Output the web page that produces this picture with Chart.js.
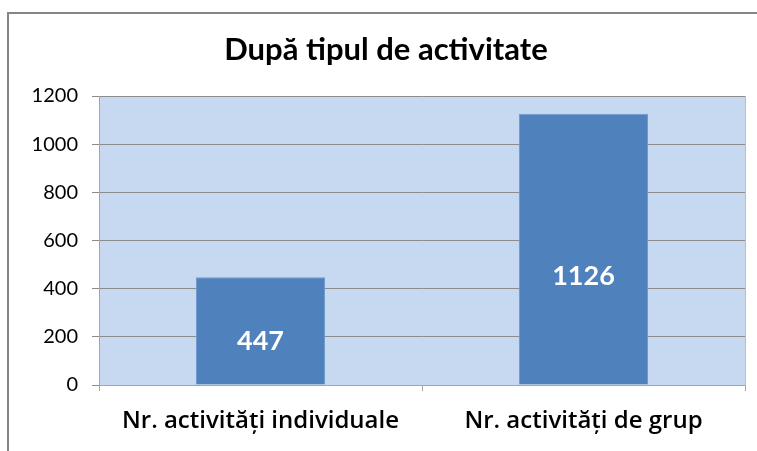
<!DOCTYPE html>
<html>
<head>
<meta charset="utf-8">
<script src="https://cdn.jsdelivr.net/npm/chart.js@4.4.1/dist/chart.umd.min.js"></script>
<style>
  html, body { margin: 0; padding: 0; background: #ffffff; }
  #wrap { position: relative; width: 757px; height: 451px; overflow: hidden; }
  #frame { position: absolute; left: 7px; top: 12px; width: 800px; height: 500px;
           border-left: 2px solid #868686; border-top: 2px solid #868686; box-sizing: border-box; }
  canvas { position: absolute; left: 0; top: 0; }
</style>
</head>
<body>
<div id="wrap">
  <div id="frame"></div>
  <canvas id="c" width="757" height="451"></canvas>
</div>
<script>
const TITLE = "După tipul de activitate";
const categories = ["Nr. activități individuale", "Nr. activități de grup"];
const values = [447, 1126];
const yTicks = [0, 200, 400, 600, 800, 1000, 1200];

const plotBg = {
  id: 'plotBg',
  beforeDraw(chart) {
    const a = chart.chartArea, ctx = chart.ctx;
    ctx.save();
    ctx.fillStyle = '#C6D9F1';
    ctx.fillRect(a.left, a.top, a.right - a.left, a.bottom - a.top);
    ctx.strokeStyle = '#B4BFCC';
    ctx.lineWidth = 1;
    ctx.beginPath();
    ctx.moveTo(a.right + 0.5, a.top);
    ctx.lineTo(a.right + 0.5, a.bottom + 6);
    ctx.stroke();
    ctx.restore();
  }
};

const titlePlugin = {
  id: 'titleText',
  afterDraw(chart) {
    const ctx = chart.ctx;
    ctx.save();
    ctx.font = 'bold 31px Lato';
    ctx.fillStyle = '#000000';
    ctx.textAlign = 'center';
    ctx.textBaseline = 'middle';
    ctx.fillText(TITLE, 386, 50);
    ctx.restore();
  }
};

const barLabels = {
  id: 'barLabels',
  afterDatasetsDraw(chart) {
    const ctx = chart.ctx;
    const meta = chart.getDatasetMeta(0);
    ctx.save();
    ctx.font = 'bold 27px Lato';
    ctx.fillStyle = '#ffffff';
    ctx.textAlign = 'center';
    ctx.textBaseline = 'middle';
    meta.data.forEach((bar, i) => {
      const y = bar.base - (bar.base - bar.y) * 0.40;
      ctx.fillText(String(values[i]), bar.x, y);
    });
    ctx.restore();
  }
};

new Chart(document.getElementById('c'), {
  type: 'bar',
  data: {
    labels: categories,
    datasets: [{
      data: values,
      backgroundColor: '#4F81BD',
      borderColor: '#6E98CC',
      borderWidth: 1,
      barPercentage: 0.4,
      categoryPercentage: 1.0
    }]
  },
  options: {
    responsive: false,
    animation: false,
    devicePixelRatio: 1,
    layout: { padding: { left: 0, right: 12, top: 96, bottom: 0 } },
    plugins: {
      legend: { display: false },
      title: { display: false },
      tooltip: { enabled: false }
    },
    scales: {
      x: {
        offset: true,
        grid: {
          offset: true,
          drawOnChartArea: false,
          drawTicks: true,
          tickLength: 6,
          color: '#A6A6A6'
        },
        border: { display: true, color: '#A6A6A6', width: 1 },
        ticks: {
          font: { family: 'Open Sans', size: 24, weight: '600' },
          color: '#000000',
          padding: 16,
          maxRotation: 0
        },
        afterFit(scale) { scale.height = 66; }
      },
      y: {
        min: 0,
        max: 1200,
        afterBuildTicks(scale) { scale.ticks = yTicks.map(v => ({ value: v })); },
        grid: {
          color: '#8C8C8C',
          drawTicks: true,
          tickLength: 7
        },
        border: { display: true, color: '#A6A6A6', width: 1 },
        ticks: {
          font: { family: 'Lato', size: 20 },
          color: '#000000',
          padding: 14,
          callback: (v) => String(v)
        },
        afterFit(scale) { scale.width = 99; }
      }
    }
  },
  plugins: [plotBg, barLabels, titlePlugin]
});
</script>
</body>
</html>
